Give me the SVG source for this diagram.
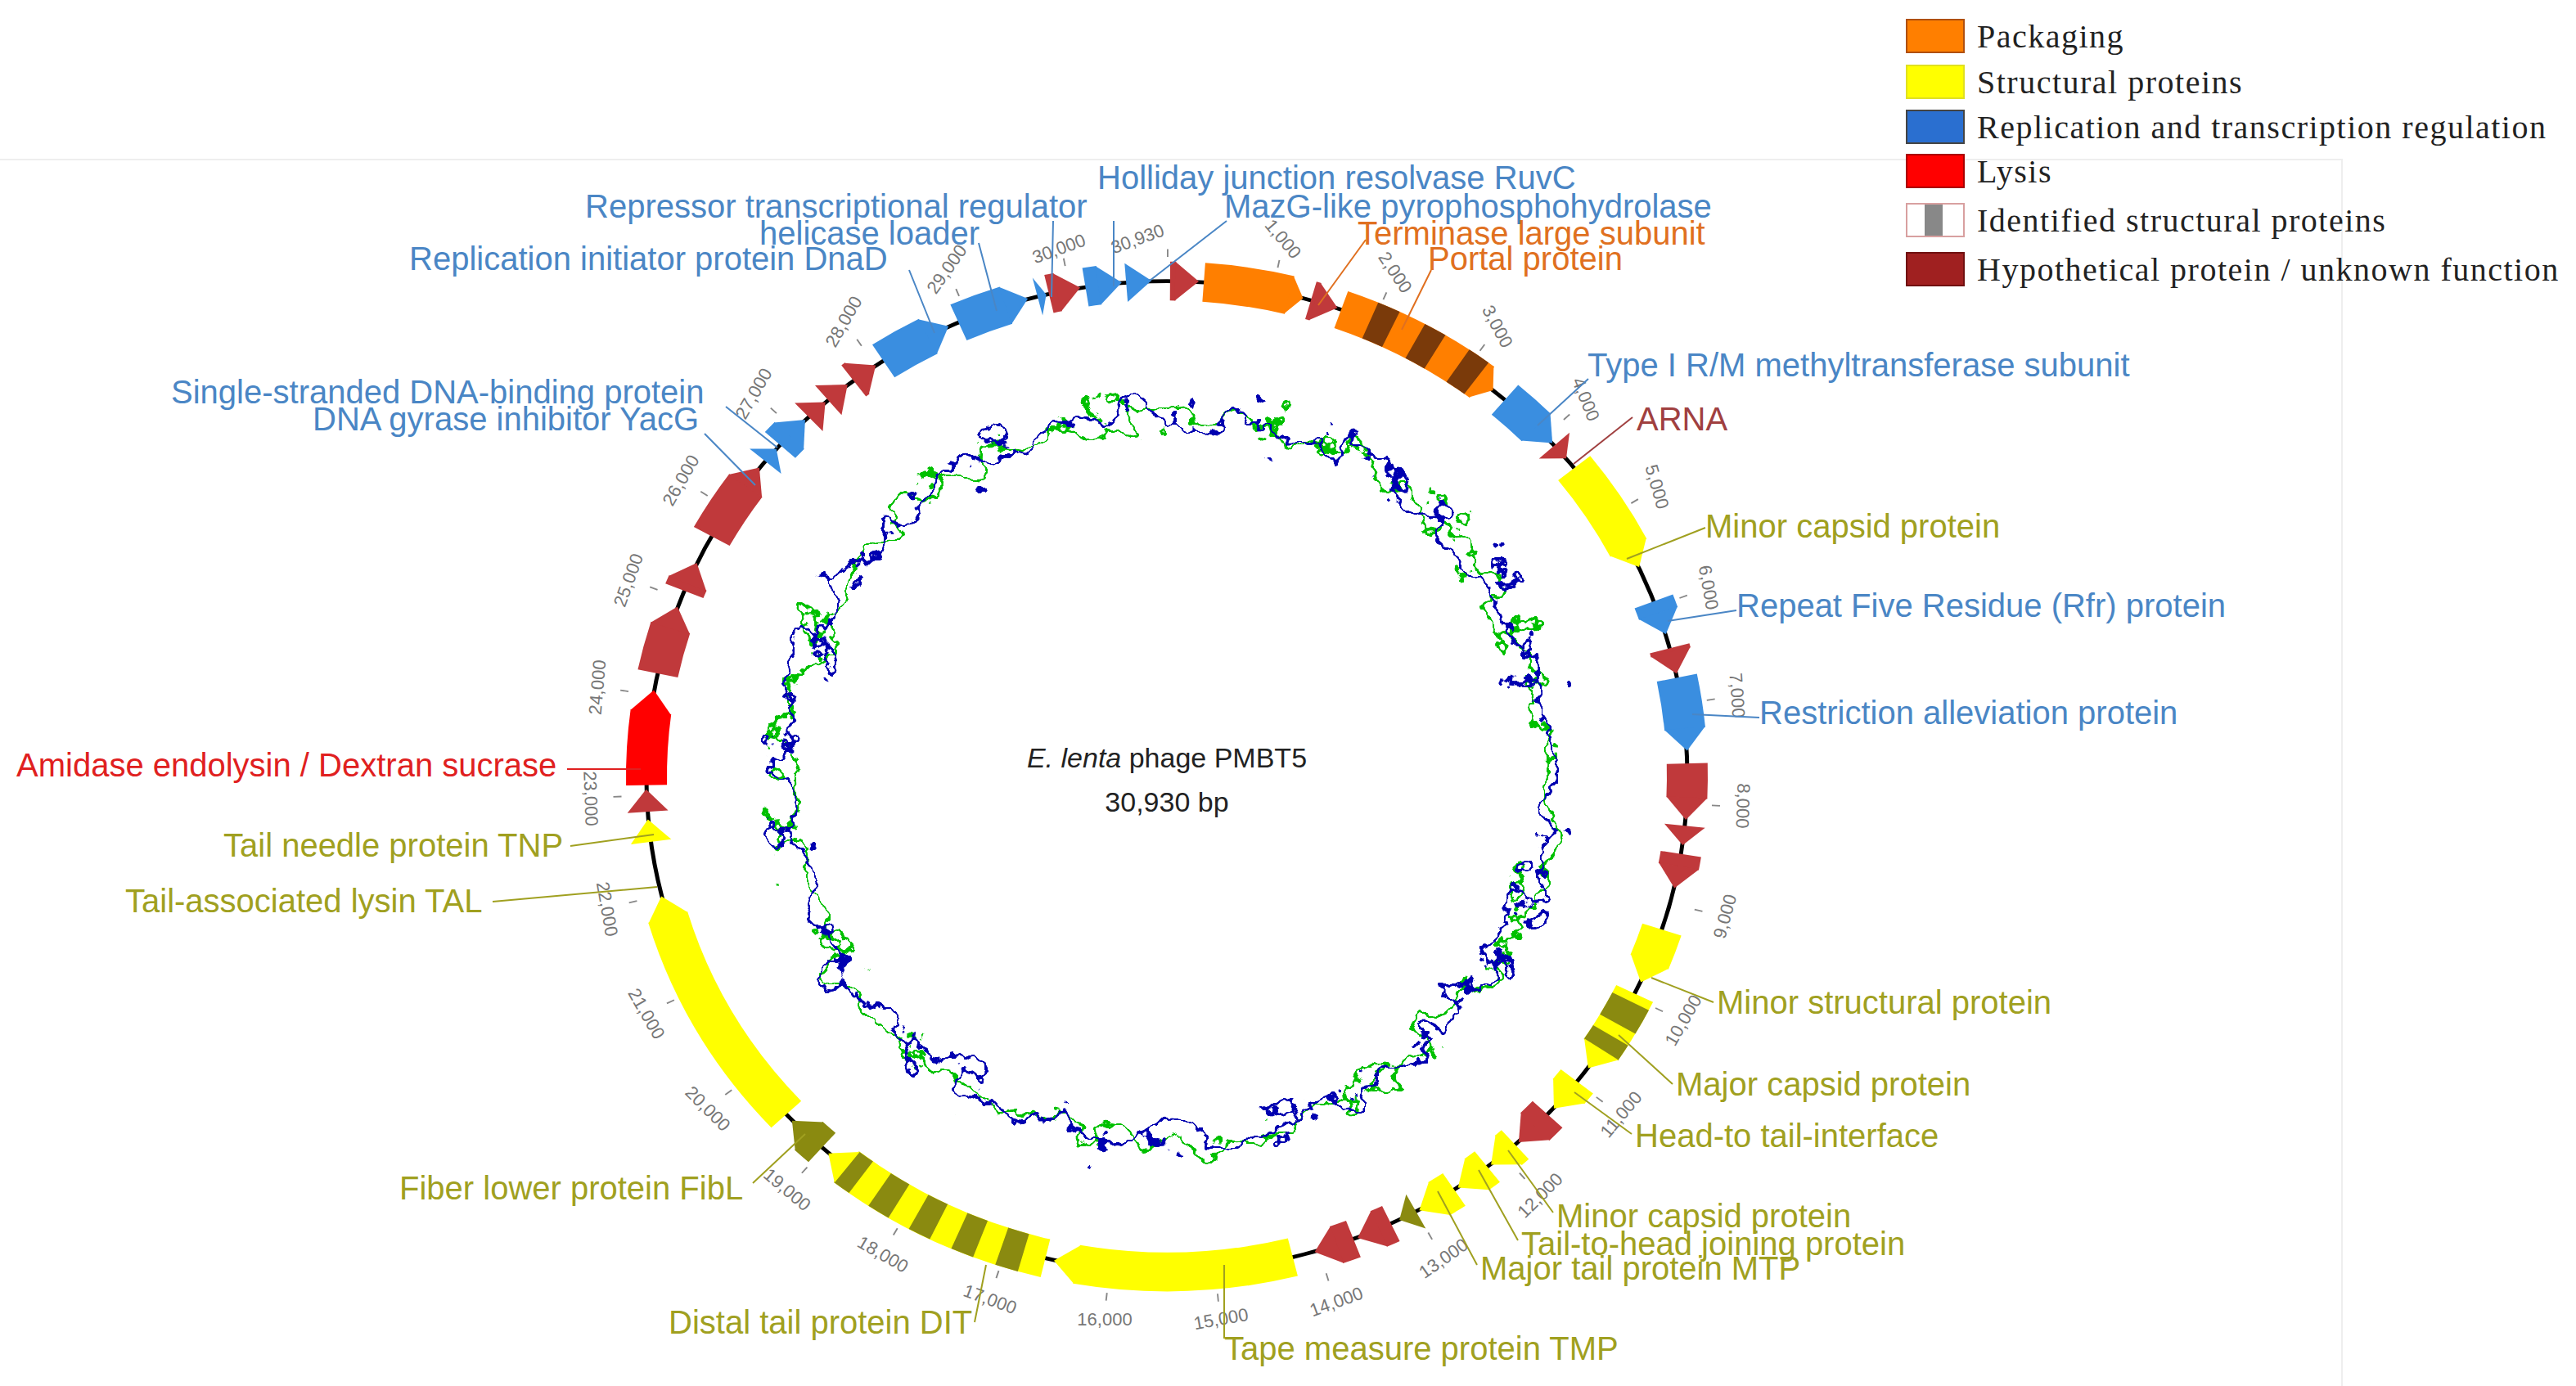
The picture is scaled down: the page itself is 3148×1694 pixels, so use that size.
<svg xmlns="http://www.w3.org/2000/svg" width="3148" height="1694" viewBox="0 0 3148 1694">
<style>
.lb{font-family:"Liberation Sans",Arial,sans-serif;font-size:40px;dominant-baseline:central}
.bl{fill:#4a86c5}.ol{fill:#a0a020}.or{fill:#e07020}.rd{fill:#e02020}.br{fill:#a04040}
.ld{fill:none;stroke-width:2}
.tk{font-family:"Liberation Sans",Arial,sans-serif;font-size:22px;fill:#777;text-anchor:middle;dominant-baseline:central}
.lg{font-family:"Liberation Serif","Times New Roman",serif;font-size:40px;letter-spacing:1.5px;fill:#222;dominant-baseline:central}
.g{fill:none;stroke-width:50}
.cO{stroke:#ff7f00}.fO{fill:#ff7f00}
.cY{stroke:#ffff00}.fY{fill:#ffff00}
.cB{stroke:#3a8ee0}.fB{fill:#3a8ee0}
.cR{stroke:#c0393b}.fR{fill:#c0393b}
.cL{stroke:#ff0000}.fL{fill:#ff0000}
.cV{stroke:#8a8a10}.fV{fill:#8a8a10}
.cD{stroke:#7a3a0a}
</style>
<defs>
<filter id="j1" filterUnits="userSpaceOnUse" x="750" y="300" width="1360" height="1300"><feTurbulence type="fractalNoise" baseFrequency="0.022" numOctaves="4" seed="3"/><feDisplacementMap in="SourceGraphic" scale="110" xChannelSelector="R" yChannelSelector="G"/></filter>
<filter id="j2" filterUnits="userSpaceOnUse" x="750" y="300" width="1360" height="1300"><feTurbulence type="fractalNoise" baseFrequency="0.022" numOctaves="4" seed="11"/><feDisplacementMap in="SourceGraphic" scale="110" xChannelSelector="R" yChannelSelector="G"/></filter>
</defs>
<rect width="3148" height="1694" fill="#fff"/>
<path d="M0,195H2862V1694" fill="none" stroke="#eee" stroke-width="2"/>

<g id="gc">
<ellipse cx="1426" cy="949" rx="466" ry="444" fill="none" stroke="#00c000" stroke-width="6" filter="url(#j2)"/>
<ellipse cx="1426" cy="949" rx="466" ry="444" fill="none" stroke="#0000b0" stroke-width="6" filter="url(#j1)"/>
</g>

<g id="center" font-family="Liberation Sans,Arial,sans-serif" font-size="34" text-anchor="middle" fill="#222">
<text x="1426" y="938"><tspan font-style="italic">E. lenta</tspan> phage PMBT5</text>
<text x="1426" y="992">30,930 bp</text>
</g>

<g id="map" transform="translate(1426,949) scale(1,0.952)">
<circle id="backbone" r="636" fill="none" stroke="#000" stroke-width="5"/>
<circle r="672" fill="none" stroke="#888" stroke-width="10" pathLength="30930" stroke-dasharray="14 986" transform="rotate(-90)"/>
<g id="g1"><circle r="636" pathLength="360" class="g cR" stroke-dasharray="0.64 400" transform="rotate(-89.65)"/><polygon class="fR" points="-1,-661 -1,-611 28,-636" transform="rotate(0.99)"/></g>
<g id="g2"><circle r="636" pathLength="360" class="g cO" stroke-dasharray="9.56 400" transform="rotate(-85.93)"/><polygon class="fO" points="-1,-661 -1,-611 17,-636" transform="rotate(13.63)"/></g>
<g id="g3"><circle r="636" pathLength="360" class="g cR" stroke-dasharray="0.53 400" transform="rotate(-73.94)"/><polygon class="fR" points="-1,-661 -1,-611 28,-636" transform="rotate(16.59)"/></g>
<g id="g4"><circle r="636" pathLength="360" class="g cO" stroke-dasharray="17.7 400" transform="rotate(-70.44)"/><circle r="636" pathLength="360" class="g cD" stroke-dasharray="2.5 3 2.5 3 2.5 400" transform="rotate(-67)"/><polygon class="fO" points="-1,-661 -1,-611 17,-636" transform="rotate(37.26)"/></g>
<g id="g5"><circle r="636" pathLength="360" class="g cB" stroke-dasharray="4.72 400" transform="rotate(-49.5)"/><polygon class="fB" points="-1,-661 -1,-611 28,-636" transform="rotate(45.22)"/></g>
<g id="g6"><polygon class="fR" points="-1,-661 -1,-611 21,-636" transform="rotate(48.19)"/></g>
<g id="g7"><circle r="636" pathLength="360" class="g cY" stroke-dasharray="11 400" transform="rotate(-38.5)"/><polygon class="fY" points="-1,-661 -1,-611 28,-636" transform="rotate(62.5)"/></g>
<g id="g8"><circle r="636" pathLength="360" class="g cB" stroke-dasharray="1.5 400" transform="rotate(-20.7)"/><polygon class="fB" points="-1,-661 -1,-611 28,-636" transform="rotate(70.8)"/></g>
<g id="g9"><circle r="636" pathLength="360" class="g cR" stroke-dasharray="0.5 400" transform="rotate(-15)"/><polygon class="fR" points="-1,-661 -1,-611 28,-636" transform="rotate(75.5)"/></g>
<g id="g10"><circle r="636" pathLength="360" class="g cB" stroke-dasharray="6 400" transform="rotate(-11.5)"/><polygon class="fB" points="-1,-661 -1,-611 28,-636" transform="rotate(84.5)"/></g>
<g id="g11"><circle r="636" pathLength="360" class="g cR" stroke-dasharray="4 400" transform="rotate(-1.5)"/><polygon class="fR" points="-1,-661 -1,-611 28,-636" transform="rotate(92.5)"/></g>
<g id="g12"><polygon class="fR" points="-1,-661 -1,-611 24,-636" transform="rotate(95.8)"/></g>
<g id="g13"><circle r="636" pathLength="360" class="g cR" stroke-dasharray="1.5 400" transform="rotate(9)"/><polygon class="fR" points="-1,-661 -1,-611 28,-636" transform="rotate(100.5)"/></g>
<g id="g14"><circle r="636" pathLength="360" class="g cY" stroke-dasharray="4 400" transform="rotate(18)"/><polygon class="fY" points="-1,-661 -1,-611 28,-636" transform="rotate(112)"/></g>
<g id="g15"><circle r="636" pathLength="360" class="g cY" stroke-dasharray="7.5 400" transform="rotate(26)"/><circle r="636" pathLength="360" class="g cV" stroke-dasharray="3 1.5 2 400" transform="rotate(27)"/><polygon class="fY" points="-1,-661 -1,-611 28,-636" transform="rotate(123.5)"/></g>
<g id="g16"><circle r="636" pathLength="360" class="g cY" stroke-dasharray="1.5 400" transform="rotate(38)"/><polygon class="fY" points="-1,-661 -1,-611 28,-636" transform="rotate(129.5)"/></g>
<g id="g17"><circle r="636" pathLength="360" class="g cR" stroke-dasharray="2 400" transform="rotate(43)"/><polygon class="fR" points="-1,-661 -1,-611 28,-636" transform="rotate(135)"/></g>
<g id="g18"><circle r="636" pathLength="360" class="g cY" stroke-dasharray="1 400" transform="rotate(48)"/><polygon class="fY" points="-1,-661 -1,-611 28,-636" transform="rotate(139)"/></g>
<g id="g19"><circle r="636" pathLength="360" class="g cY" stroke-dasharray="1.5 400" transform="rotate(52)"/><polygon class="fY" points="-1,-661 -1,-611 28,-636" transform="rotate(143.5)"/></g>
<g id="g20"><circle r="636" pathLength="360" class="g cY" stroke-dasharray="2 400" transform="rotate(56.5)"/><polygon class="fY" points="-1,-661 -1,-611 28,-636" transform="rotate(148.5)"/></g>
<g id="g21"><polygon class="fV" points="-1,-661 -1,-611 22,-636" transform="rotate(151.5)"/></g>
<g id="g22"><circle r="636" pathLength="360" class="g cR" stroke-dasharray="1.5 400" transform="rotate(64.5)"/><polygon class="fR" points="-1,-661 -1,-611 28,-636" transform="rotate(156)"/></g>
<g id="g23"><circle r="636" pathLength="360" class="g cR" stroke-dasharray="2 400" transform="rotate(69)"/><polygon class="fR" points="-1,-661 -1,-611 28,-636" transform="rotate(161)"/></g>
<g id="g24"><circle r="636" pathLength="360" class="g cY" stroke-dasharray="24 400" transform="rotate(76)"/><polygon class="fY" points="-1,-661 -1,-611 28,-636" transform="rotate(190)"/></g>
<g id="g25"><circle r="636" pathLength="360" class="g cY" stroke-dasharray="24.5 400" transform="rotate(103.5)"/><circle r="636" pathLength="360" class="g cV" stroke-dasharray="2.5 2.5 2.5 2.5 2.5 2.5 2.5 2.5 2 400" transform="rotate(106)"/><polygon class="fY" points="-1,-661 -1,-611 28,-636" transform="rotate(218)"/></g>
<g id="g26"><circle r="636" pathLength="360" class="g cV" stroke-dasharray="2 400" transform="rotate(131.5)"/><polygon class="fV" points="-1,-661 -1,-611 28,-636" transform="rotate(223.5)"/></g>
<g id="g27"><circle r="636" pathLength="360" class="g cY" stroke-dasharray="26.5 400" transform="rotate(137)"/><polygon class="fY" points="-1,-661 -1,-611 28,-636" transform="rotate(253.5)"/></g>
<g id="g28"><polygon class="fY" points="-1,-661 -1,-611 28,-636" transform="rotate(262.5)"/></g>
<g id="g29"><polygon class="fR" points="-1,-661 -1,-611 28,-636" transform="rotate(266)"/></g>
<g id="g30"><circle r="636" pathLength="360" class="g cL" stroke-dasharray="8.5 400" transform="rotate(179)"/><polygon class="fL" points="-1,-661 -1,-611 28,-636" transform="rotate(277.5)"/></g>
<g id="g31"><circle r="636" pathLength="360" class="g cR" stroke-dasharray="5.5 400" transform="rotate(192)"/><polygon class="fR" points="-1,-661 -1,-611 28,-636" transform="rotate(287.5)"/></g>
<g id="g32"><circle r="636" pathLength="360" class="g cR" stroke-dasharray="1 400" transform="rotate(202)"/><polygon class="fR" points="-1,-661 -1,-611 28,-636" transform="rotate(293)"/></g>
<g id="g33"><circle r="636" pathLength="360" class="g cR" stroke-dasharray="7 400" transform="rotate(209)"/><polygon class="fR" points="-1,-661 -1,-611 28,-636" transform="rotate(306)"/></g>
<g id="g34"><polygon class="fB" points="-1,-661 -1,-611 20,-636" transform="rotate(309.6)"/></g>
<g id="g35"><circle r="636" pathLength="360" class="g cB" stroke-dasharray="1.5 400" transform="rotate(222)"/><polygon class="fB" points="-1,-661 -1,-611 28,-636" transform="rotate(313.5)"/></g>
<g id="g36"><polygon class="fR" points="-1,-661 -1,-611 27,-636" transform="rotate(316.6)"/></g>
<g id="g37"><polygon class="fR" points="-1,-661 -1,-611 30,-636" transform="rotate(319.5)"/></g>
<g id="g38"><circle r="636" pathLength="360" class="g cR" stroke-dasharray="0.5 400" transform="rotate(233)"/><polygon class="fR" points="-1,-661 -1,-611 28,-636" transform="rotate(323.5)"/></g>
<g id="g39"><circle r="636" pathLength="360" class="g cB" stroke-dasharray="5.7 400" transform="rotate(237)"/><polygon class="fB" points="-1,-661 -1,-611 28,-636" transform="rotate(332.7)"/></g>
<g id="g40"><circle r="636" pathLength="360" class="g cB" stroke-dasharray="5.6 400" transform="rotate(246.4)"/><polygon class="fB" points="-1,-661 -1,-611 28,-636" transform="rotate(342)"/></g>
<g id="g41"><polygon class="fB" points="-1,-661 -1,-611 10,-636" transform="rotate(345.7)"/></g>
<g id="g42"><circle r="636" pathLength="360" class="g cR" stroke-dasharray="1 400" transform="rotate(256.9)"/><polygon class="fR" points="-1,-661 -1,-611 28,-636" transform="rotate(347.9)"/></g>
<g id="g43"><circle r="636" pathLength="360" class="g cB" stroke-dasharray="1.5 400" transform="rotate(261)"/><polygon class="fB" points="-1,-661 -1,-611 28,-636" transform="rotate(352.5)"/></g>
<g id="g44"><polygon class="fB" points="-1,-661 -1,-611 30,-636" transform="rotate(355.6)"/></g>
</g>

<g id="ticks">
<text class="tk" transform="translate(1568,292) rotate(50)">1,000</text>
<text class="tk" transform="translate(1705,333) rotate(56)">2,000</text>
<text class="tk" transform="translate(1830,399) rotate(62)">3,000</text>
<text class="tk" transform="translate(1938,488) rotate(68)">4,000</text>
<text class="tk" transform="translate(2025,595) rotate(74)">5,000</text>
<text class="tk" transform="translate(2088,718) rotate(80)">6,000</text>
<text class="tk" transform="translate(2123,850) rotate(86)">7,000</text>
<text class="tk" transform="translate(2130,985) rotate(92)">8,000</text>
<text class="tk" transform="translate(2108,1120) rotate(-75)">9,000</text>
<text class="tk" transform="translate(2057,1247) rotate(-60)">10,000</text>
<text class="tk" transform="translate(1981,1362) rotate(-50)">11,000</text>
<text class="tk" transform="translate(1882,1461) rotate(-45)">12,000</text>
<text class="tk" transform="translate(1764,1538) rotate(-35)">13,000</text>
<text class="tk" transform="translate(1633,1591) rotate(-20)">14,000</text>
<text class="tk" transform="translate(1492,1612) rotate(-10)">15,000</text>
<text class="tk" transform="translate(1350,1612) rotate(0)">16,000</text>
<text class="tk" transform="translate(1210,1588) rotate(20)">17,000</text>
<text class="tk" transform="translate(1079,1533) rotate(30)">18,000</text>
<text class="tk" transform="translate(962,1454) rotate(40)">19,000</text>
<text class="tk" transform="translate(865,1355) rotate(45)">20,000</text>
<text class="tk" transform="translate(790,1239) rotate(60)">21,000</text>
<text class="tk" transform="translate(742,1111) rotate(80)">22,000</text>
<text class="tk" transform="translate(722,976) rotate(88)">23,000</text>
<text class="tk" transform="translate(730,840) rotate(-85)">24,000</text>
<text class="tk" transform="translate(768,709) rotate(-70)">25,000</text>
<text class="tk" transform="translate(832,587) rotate(-60)">26,000</text>
<text class="tk" transform="translate(921,481) rotate(-60)">27,000</text>
<text class="tk" transform="translate(1031,393) rotate(-60)">28,000</text>
<text class="tk" transform="translate(1157,329) rotate(-55)">29,000</text>
<text class="tk" transform="translate(1294,304) rotate(-20)">30,000</text>
<text class="tk" transform="translate(1390,292) rotate(-20)">30,930</text>
</g>

<g id="connectors">
<path class="ld" stroke="#4a86c5" d="M1361,270V350M1287,270L1285,363M1499,270L1405,343M1196,297L1218,380M1111,330L1142,407M1941,463L1879,520M887,497L950,547M861,530L923,593M2122,746L2038,759M2150,877L2068,873"/>
<path class="ld" stroke="#e07020" d="M1669,293L1611,373M1749,330L1713,403"/>
<path class="ld" stroke="#a04040" d="M1995,510L1923,567"/>
<path class="ld" stroke="#e02020" d="M693,940L783,940"/>
<path class="ld" stroke="#a0a020" d="M2084,645L1988,683M697,1034L799,1020M602,1102L803,1084M2094,1225L2018,1195M2044,1325L1978,1265M1994,1386L1924,1335M920,1446L984,1386M1898,1482L1843,1406M1855,1516L1807,1430M1805,1546L1757,1456M1191,1616L1205,1546M1496,1636L1496,1546"/>
</g>

<g id="labels">
<text id="l1" class="lb bl" x="1341" y="217">Holliday junction resolvase RuvC</text>
<text id="l2" class="lb bl" x="1496" y="252">MazG-like pyrophosphohydrolase</text>
<text id="l3" class="lb bl" x="715" y="252">Repressor transcriptional regulator</text>
<text id="l4" class="lb bl" x="928" y="285">helicase loader</text>
<text id="l5" class="lb or" x="1659" y="285">Terminase large subunit</text>
<text id="l6" class="lb bl" x="500" y="316">Replication initiator protein DnaD</text>
<text id="l7" class="lb or" x="1745" y="316">Portal protein</text>
<text id="l8" class="lb bl" x="1940" y="446">Type I R/M methyltransferase subunit</text>
<text id="l9" class="lb br" x="2000" y="512">ARNA</text>
<text id="l10" class="lb bl" x="209" y="479">Single-stranded DNA-binding protein</text>
<text id="l11" class="lb bl" x="382" y="512">DNA gyrase inhibitor YacG</text>
<text id="l12" class="lb ol" x="2084" y="643">Minor capsid protein</text>
<text id="l13" class="lb bl" x="2122" y="740">Repeat Five Residue (Rfr) protein</text>
<text id="l14" class="lb bl" x="2150" y="871">Restriction alleviation protein</text>
<text id="l15" class="lb rd" x="20" y="935">Amidase endolysin / Dextran sucrase</text>
<text id="l16" class="lb ol" x="273" y="1033">Tail needle protein TNP</text>
<text id="l17" class="lb ol" x="153" y="1101">Tail-associated lysin TAL</text>
<text id="l18" class="lb ol" x="2098" y="1225">Minor structural protein</text>
<text id="l19" class="lb ol" x="2048" y="1325">Major capsid protein</text>
<text id="l20" class="lb ol" x="1998" y="1388">Head-to tail-interface</text>
<text id="l21" class="lb ol" x="488" y="1452">Fiber lower protein FibL</text>
<text id="l22" class="lb ol" x="1902" y="1486">Minor capsid protein</text>
<text id="l23" class="lb ol" x="1859" y="1520">Tail-to-head joining protein</text>
<text id="l24" class="lb ol" x="1809" y="1550">Major tail protein MTP</text>
<text id="l25" class="lb ol" x="817" y="1616">Distal tail protein DIT</text>
<text id="l26" class="lb ol" x="1496" y="1648">Tape measure protein TMP</text>
</g>

<g id="legend">
<rect x="2330" y="24" width="70" height="40" fill="#ff7f00" stroke="#b05010" stroke-width="2"/>
<text class="lg" x="2416" y="44">Packaging</text>
<rect x="2330" y="80" width="70" height="40" fill="#ffff00" stroke="#e0e020" stroke-width="2"/>
<text class="lg" x="2416" y="100">Structural proteins</text>
<rect x="2330" y="135" width="70" height="40" fill="#2a6fd0" stroke="#444" stroke-width="2"/>
<text class="lg" x="2416" y="155">Replication and transcription regulation</text>
<rect x="2330" y="189" width="70" height="40" fill="#ff0000" stroke="#a00" stroke-width="2"/>
<text class="lg" x="2416" y="209">Lysis</text>
<rect x="2330" y="249" width="70" height="40" fill="#fff" stroke="#d8a0a0" stroke-width="2"/>
<rect x="2352" y="250" width="22" height="38" fill="#888"/>
<text class="lg" x="2416" y="269">Identified structural proteins</text>
<rect x="2330" y="309" width="70" height="40" fill="#a02020" stroke="#701010" stroke-width="2"/>
<text class="lg" x="2416" y="329">Hypothetical protein / unknown function</text>
</g>
</svg>
